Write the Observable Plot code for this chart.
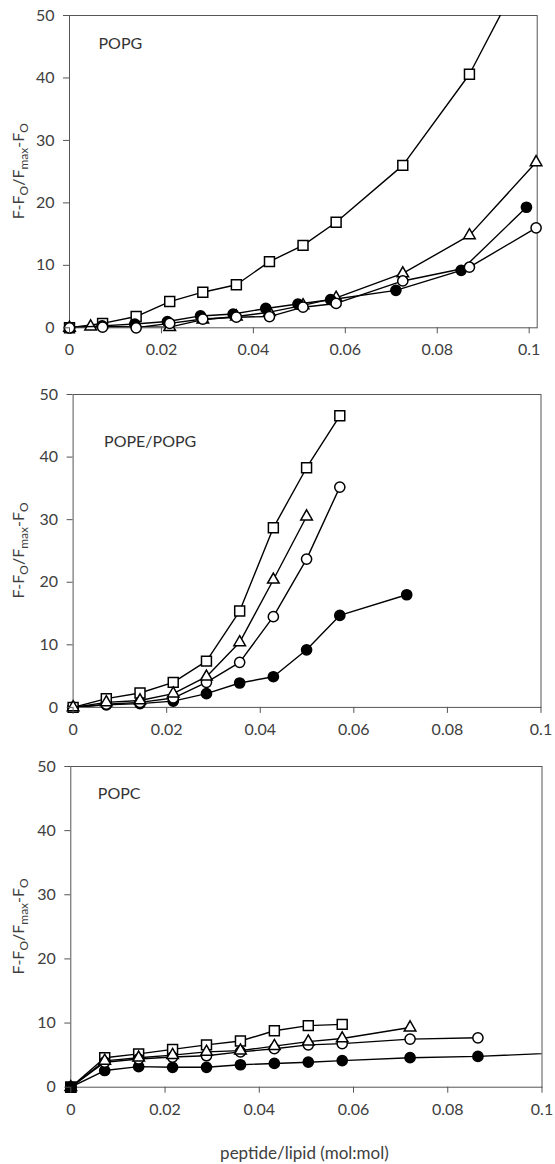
<!DOCTYPE html>
<html><head><meta charset="utf-8">
<script src="https://cdn.jsdelivr.net/npm/d3@7"></script>
<script src="https://cdn.jsdelivr.net/npm/@observablehq/plot@0.6"></script>
<style>
body{margin:0;background:#fff;}
#chart{position:relative;width:555px;height:1164px;font-family:Lato,sans-serif;background:#fff;}
#chart svg{position:absolute;left:0;}
</style></head><body><div id="chart"></div>
<script>
// ---------- data ----------
const xTicks = [0, 0.02, 0.04, 0.06, 0.08, 0.1];
const yTicks = [0, 10, 20, 30, 40, 50];
const panelLabels = ["POPG", "POPE/POPG", "POPC"];
const xTitle = "peptide/lipid (mol:mol)";

// POPG
const popgSquareX   = [0, 0.0072, 0.0145, 0.0218, 0.029, 0.0363, 0.0435, 0.0508, 0.058, 0.0725, 0.087, 0.1015];
const popgSquareY   = [0, 0.7, 1.8, 4.2, 5.7, 6.9, 10.6, 13.2, 16.9, 26.0, 40.6, 61];
const popgTriangleX = [0, 0.0046, 0.0218, 0.029, 0.0363, 0.0435, 0.0508, 0.058, 0.0725, 0.087, 0.1015];
const popgTriangleY = [0, 0.2, 0.1, 1.3, 1.8, 2.5, 3.6, 4.8, 8.7, 14.8, 26.5];
const popgFilledX   = [0, 0.0071, 0.0142, 0.0213, 0.0285, 0.0356, 0.0427, 0.0497, 0.0568, 0.071, 0.0852, 0.0994];
const popgFilledY   = [0, 0.3, 0.6, 1.0, 1.9, 2.2, 3.1, 3.8, 4.5, 6.0, 9.2, 19.3];
const popgOpenX     = [0, 0.0072, 0.0145, 0.0218, 0.029, 0.0363, 0.0435, 0.0508, 0.058, 0.0725, 0.087, 0.1015];
const popgOpenY     = [0, 0.1, 0, 0.7, 1.4, 1.7, 1.8, 3.3, 3.9, 7.5, 9.7, 16.0];

// POPE/POPG
const pepgX         = [0, 0.0071, 0.0143, 0.0214, 0.0285, 0.0356, 0.0428, 0.0499, 0.057, 0.0713];
const pepgSquareY   = [0, 1.4, 2.3, 4.0, 7.4, 15.4, 28.7, 38.3, 46.6];
const pepgTriangleY = [0, 0.8, 1.1, 2.2, 4.9, 10.4, 20.4, 30.5];
const pepgOpenY     = [0, 0.5, 0.8, 1.5, 4.0, 7.2, 14.5, 23.7, 35.2];
const pepgFilledY   = [0, 0.4, 0.6, 1.0, 2.2, 3.9, 4.9, 9.2, 14.7, 18.0];

// POPC
const popcX         = [0, 0.0072, 0.0144, 0.0216, 0.0288, 0.036, 0.0432, 0.0504, 0.0576, 0.072, 0.0864, 0.115];
const popcSquareY   = [0, 4.6, 5.2, 5.9, 6.6, 7.2, 8.8, 9.6, 9.8];
const popcTriangleY = [0, 4.1, 4.6, 5.0, 5.5, 5.7, 6.4, 7.1, 7.6, 9.3];
const popcOpenY     = [0, 3.9, 4.4, 4.7, 4.9, 5.5, 6.0, 6.6, 6.8, 7.5, 7.7];
const popcFilledY   = [0, 2.6, 3.2, 3.1, 3.1, 3.5, 3.7, 3.9, 4.15, 4.6, 4.8, 5.7];
const popcOrigin    = [[0, 0]];

// ---------- styles ----------
const markerStyle = {
  square:   {symbol: "square",   fill: "white", r: 5.6},
  triangle: {symbol: "triangle", fill: "white", r: 4.3},
  open:     {symbol: "circle",   fill: "white", r: 5.1},
  filled:   {symbol: "circle",   fill: "black", r: 5.1}
};
const zip = (xs, ys) => ys.map((y, i) => ({x: xs[i], y}));
const fmt = d => String(+d.toFixed(2));

const panels = [
  {
    top: 0, height: 370, mt: 15, mb: 42.7, ml: 69, mr: 18.3, xMax: 0.10174,
    label: panelLabels[0], ldx: 29, ldy: 28.5,
    series: [
      ["square", zip(popgSquareX, popgSquareY)],
      ["triangle", zip(popgTriangleX, popgTriangleY)],
      ["filled", zip(popgFilledX, popgFilledY)],
      ["open", zip(popgOpenX, popgOpenY)]
    ]
  },
  {
    top: 380, height: 370, mt: 14, mb: 43.1, ml: 72.6, mr: 14.5, xMax: 0.1,
    label: panelLabels[1], ldx: 31, ldy: 47.7,
    series: [
      ["filled", zip(pepgX, pepgFilledY)],
      ["open", zip(pepgX, pepgOpenY)],
      ["square", zip(pepgX, pepgSquareY)],
      ["triangle", zip(pepgX, pepgTriangleY)]
    ]
  },
  {
    top: 750, height: 414, mt: 16, mb: 77.3, ml: 70.3, mr: 13.5, xMax: 0.1,
    label: panelLabels[2], ldx: 27, ldy: 27.3, xTitle: xTitle,
    series: [
      ["filled", zip(popcX, popcFilledY)],
      ["square", zip(popcX, popcSquareY)],
      ["open", zip(popcX, popcOpenY)],
      ["triangle", zip(popcX, popcTriangleY)]
    ],
    origin: popcOrigin.map(([x, y]) => ({x, y}))
  }
];

const chart = document.getElementById("chart");

for (const p of panels) {
  const marks = [Plot.frame({stroke: "#555", strokeWidth: 1})];
  for (const [kind, data] of p.series) {
    const st = markerStyle[kind];
    marks.push(Plot.line(data, {x: "x", y: "y", stroke: "black", strokeWidth: 1.4, clip: true}));
    marks.push(Plot.dot(data, {
      x: "x", y: "y", symbol: () => st.symbol, r: st.r, fill: st.fill,
      stroke: "black", strokeWidth: 1.5,
      filter: d => d.x <= p.xMax && d.y <= 50
    }));
  }
  if (p.origin) {
    marks.push(Plot.dot(p.origin, {x: "x", y: "y", symbol: () => "square", r: 5.6, fill: "black", stroke: "black", strokeWidth: 1.5}));
  }
  marks.push(Plot.axisY({ticks: yTicks, tickSize: 6, tickPadding: 9, label: null, stroke: "#555", fontSize: 16}));
  marks.push(Plot.axisX({ticks: xTicks, tickFormat: fmt, tickSize: 6, tickPadding: 10, label: null, stroke: "#555", fontSize: 16}));
  marks.push(Plot.text([p.label], {text: d => d, frameAnchor: "top-left", dx: p.ldx, dy: p.ldy,
    textAnchor: "start", lineAnchor: "middle", fill: "#333", fontSize: 16}));
  if (p.xTitle) {
    marks.push(Plot.text([p.xTitle], {text: d => d, frameAnchor: "bottom", dx: -2, dy: 66,
      textAnchor: "middle", lineAnchor: "middle", fill: "#404040", fontSize: 17}));
  }

  const svg = Plot.plot({
    width: 555, height: p.height,
    marginTop: p.mt, marginBottom: p.mb, marginLeft: p.ml, marginRight: p.mr,
    x: {domain: [0, p.xMax], axis: null},
    y: {domain: [0, 50], axis: null},
    style: {fontFamily: "Lato, sans-serif", fontSize: "16px", color: "#404040", background: "white", overflow: "visible"},
    marks
  });
  svg.style.top = p.top + "px";
  chart.appendChild(svg);

  // y-axis title with subscripts
  const cy = p.mt + (p.height - p.mt - p.mb) / 2;
  const t = d3.select(svg).append("text")
    .attr("transform", `translate(24,${cy}) rotate(-90)`)
    .attr("text-anchor", "middle")
    .attr("fill", "#404040")
    .attr("font-family", "Lato, sans-serif")
    .attr("font-size", 16);
  const parts = [["F-F", 0], ["O", 1], ["/F", 0], ["max", 1], ["-F", 0], ["O", 1]];
  let shifted = false;
  for (const [s, sub] of parts) {
    const ts = t.append("tspan").text(s);
    if (sub && !shifted) { ts.attr("dy", 4).attr("font-size", 12); shifted = true; }
    else if (sub) { ts.attr("font-size", 12); }
    else if (shifted) { ts.attr("dy", -4); shifted = false; }
  }
}
</script></body></html>
